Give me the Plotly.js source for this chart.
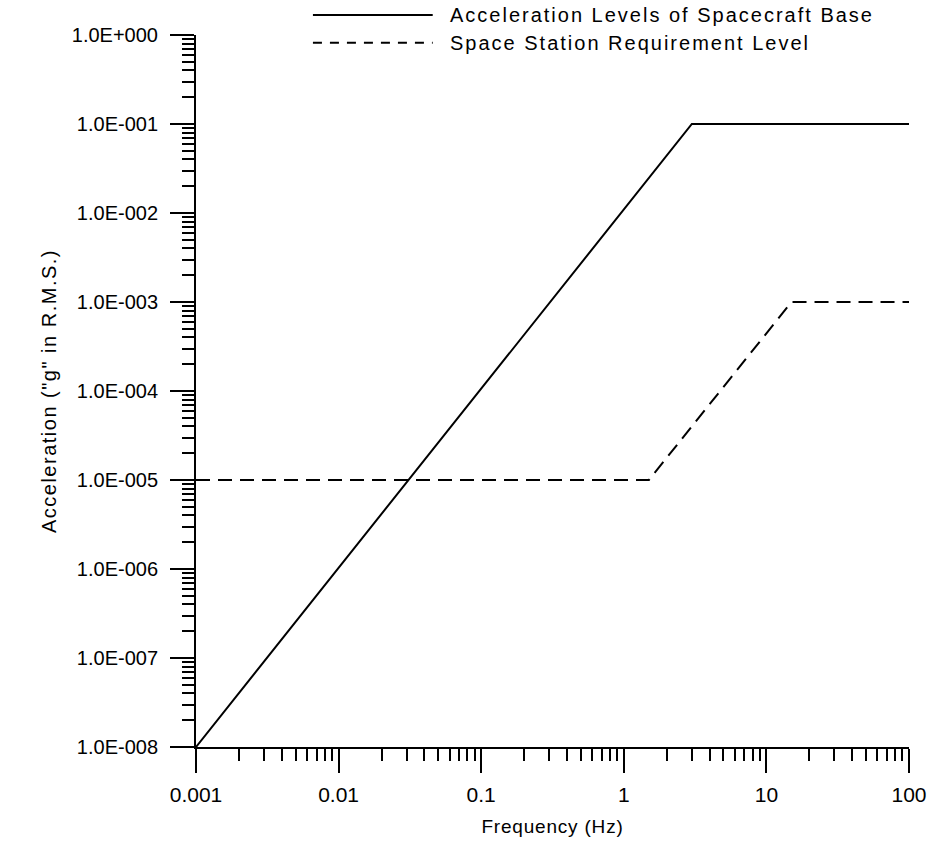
<!DOCTYPE html>
<html>
<head>
<meta charset="utf-8">
<script src="https://cdn.plot.ly/plotly-3.0.1.min.js"></script>
<style>
html,body{margin:0;padding:0;background:#fff;}
#chart{width:929px;height:842px;}
#chart .annotation-text{letter-spacing:2px;}
#chart .ytitle{letter-spacing:1.5px;}
#chart .xtitle{letter-spacing:0.8px;}
</style>
</head>
<body>
<div id="chart"></div>
<script>
// Series data
const baseFreq = [0.001, 3, 100];
const baseAccel = [1e-8, 0.1, 0.1];
const stationFreq = [0.001, 1.5, 15, 100];
const stationAccel = [1e-5, 1e-5, 1e-3, 1e-3];

const seriesNames = ["Acceleration Levels of Spacecraft Base", "Space Station Requirement Level"];

// Tick labels
const xTickVals = [0.001, 0.01, 0.1, 1, 10, 100];
const xTickText = ["0.001", "0.01", "0.1", "1", "10", "100"];
const yTickVals = [1e-8, 1e-7, 1e-6, 1e-5, 1e-4, 1e-3, 1e-2, 1e-1, 1];
const yTickText = ["1.0E-008", "1.0E-007", "1.0E-006", "1.0E-005", "1.0E-004", "1.0E-003", "1.0E-002", "1.0E-001", "1.0E+000"];

function minorTicks(majors) {
  const out = [];
  for (let i = 0; i < majors.length - 1; i++) {
    for (let k = 2; k <= 9; k++) out.push(majors[i] * k);
  }
  return out;
}

const FONT = "Liberation Sans, Arial, sans-serif";

// letter-spacing (2px) widens legend text symmetrically; shift the boxes right by half the extra width
function legendX(label) {
  const basePx = 447.7 + (label.length * 2) / 2;
  return (basePx - 196) / 713;
}

const traces = [
  {x: baseFreq, y: baseAccel, mode: "lines", name: seriesNames[0],
   line: {color: "#000", width: 2}, showlegend: false},
  {x: stationFreq, y: stationAccel, mode: "lines", name: seriesNames[1],
   line: {color: "#000", width: 2, dash: "14px,8px"}, showlegend: false}
];

const layout = {
  width: 929, height: 842,
  margin: {l: 196, r: 20, t: 35, b: 95},
  paper_bgcolor: "#fff", plot_bgcolor: "#fff",
  font: {family: FONT, size: 18, color: "#000"},
  showlegend: false,
  xaxis: {
    type: "log", range: [-3, 2],
    tickmode: "array", tickvals: xTickVals, ticktext: xTickText,
    ticks: "outside", ticklen: 24, tickwidth: 2, tickcolor: "#000",
    showline: true, linecolor: "#000", linewidth: 2,
    showgrid: false, zeroline: false,
    ticklabelstandoff: 4,
    tickfont: {size: 21},
    minor: {tickvals: minorTicks(xTickVals), ticks: "outside", ticklen: 12, tickwidth: 2, tickcolor: "#000", showgrid: false},
    title: {text: "Frequency (Hz)", font: {size: 19}, standoff: 14}
  },
  yaxis: {
    type: "log", range: [-8, 0],
    tickmode: "array", tickvals: yTickVals, ticktext: yTickText,
    ticks: "outside", ticklen: 24, tickwidth: 2, tickcolor: "#000",
    showline: true, linecolor: "#000", linewidth: 2,
    showgrid: false, zeroline: false,
    ticklabelstandoff: 8,
    tickfont: {size: 20},
    minor: {tickvals: minorTicks(yTickVals), ticks: "outside", ticklen: 12, tickwidth: 2, tickcolor: "#000", showgrid: false},
    title: {text: "Acceleration (\"g\" in R.M.S.)", font: {size: 20}, standoff: 10}
  },
  shapes: [
    {type: "line", xref: "paper", yref: "paper", x0: 0.164, x1: 0.332, y0: 1.028, y1: 1.028,
     line: {color: "#000", width: 2}},
    {type: "line", xref: "paper", yref: "paper", x0: 0.164, x1: 0.332, y0: 0.989, y1: 0.989,
     line: {color: "#000", width: 2, dash: "9px,8px"}}
  ],
  annotations: [
    {xref: "paper", yref: "paper", x: legendX(seriesNames[0]), y: 1.028, xanchor: "left", yanchor: "middle",
     text: seriesNames[0], showarrow: false, font: {size: 20}},
    {xref: "paper", yref: "paper", x: legendX(seriesNames[1]), y: 0.989, xanchor: "left", yanchor: "middle",
     text: seriesNames[1], showarrow: false, font: {size: 20}}
  ]
};

Plotly.newPlot("chart", traces, layout, {displayModeBar: false, staticPlot: true});
</script>
</body>
</html>
